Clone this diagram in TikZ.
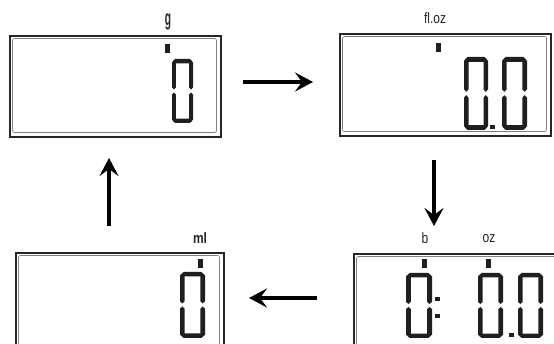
\documentclass[tikz,border=0pt]{standalone}
\usepackage{fontspec}
\setmainfont{Liberation Sans}
\usetikzlibrary{arrows.meta}
\tikzset{
  lcdout/.style={draw=black!85, line width=1.6pt},
  lcdin/.style={draw=black!50, line width=0.6pt, rounded corners=1.5pt},
  segfill/.style={fill=black!88, draw=none},
  unitlbl/.style={font=\fontsize{15}{15}\selectfont, text=black!85, inner sep=0pt, xscale=0.8},
  flowarrow/.style={line width=3.4pt, draw=black, -{Stealth[length=18pt,width=19pt,inset=7pt]}},
}
\newcommand\lcdzero[4]{%
  \begin{scope}[shift={(#1,#2)}, xscale=#3/24, yscale=#4/66]
    \fill[segfill] (1.2,2.25) -- (3.45,0) -- (20.55,0) -- (22.8,2.25) -- (20.55,4.5) -- (3.45,4.5) -- cycle;
    \fill[segfill] (1.2,63.75) -- (3.45,61.5) -- (20.55,61.5) -- (22.8,63.75) -- (20.55,66) -- (3.45,66) -- cycle;
    \fill[segfill] (2.25,1.2) -- (4.5,3.45) -- (4.5,29.3) -- (2.25,31.5) -- (0,29.3) -- (0,3.45) -- cycle;
    \fill[segfill] (2.25,34.5) -- (4.5,36.7) -- (4.5,62.55) -- (2.25,64.8) -- (0,62.55) -- (0,36.7) -- cycle;
    \fill[segfill] (21.75,1.2) -- (24,3.45) -- (24,29.3) -- (21.75,31.5) -- (19.5,29.3) -- (19.5,3.45) -- cycle;
    \fill[segfill] (21.75,34.5) -- (24,36.7) -- (24,62.55) -- (21.75,64.8) -- (19.5,62.55) -- (19.5,36.7) -- cycle;
  \end{scope}}
\newcommand\lcdmark[2]{\fill[segfill] (#1,#2) rectangle ++(4.5,9);}
\newcommand\lcddot[2]{\fill[segfill] (#1,#2) rectangle ++(4.5,4.5);}
\begin{document}
\begin{tikzpicture}[x={(1pt,0)}, y={(0,-1pt)}]
  \useasboundingbox (0,0) rectangle (554,344);
  \clip (0,0) rectangle (554,344);
  \fill[white] (0,0) rectangle (554,344);

  % box g (top left)
  \node[lcdout, minimum width=211pt, minimum height=101pt, anchor=north west, inner sep=0pt] (boxg) at (9,35) {};
  \draw[lcdin] (12.5,38.5) rectangle (216.5,132.5);
  \node[unitlbl, font=\fontsize{15}{15}\selectfont\bfseries, xscale=0.85, yscale=1.45] (lblg) at (168,22) {g};
  \lcdmark{165}{44}
  \lcdzero{172}{59}{21}{64}

  % box fl.oz (top right)
  \node[lcdout, minimum width=211pt, minimum height=102pt, anchor=north west, inner sep=0pt] (boxfl) at (339,33) {};
  \draw[lcdin] (342.5,36.5) rectangle (546.5,131.5);
  \node[unitlbl] (lblfl) at (435,18) {fl.oz};
  \lcdmark{436}{43}
  \lcdzero{464}{57}{24}{73}
  \lcddot{490}{125}
  \lcdzero{502}{57}{25}{73}

  % box ml (bottom left)
  \node[lcdout, minimum width=208pt, minimum height=110pt, anchor=north west, inner sep=0pt] (boxml) at (15,252) {};
  \draw[lcdin] (18.5,255.5) rectangle (219.5,360);
  \node[unitlbl, font=\fontsize{15}{15}\selectfont\bfseries] (lblml) at (200,238) {ml};
  \lcdmark{198}{259}
  \lcdzero{180}{272}{25}{66}

  % box lb oz (bottom right)
  \node[lcdout, minimum width=220pt, minimum height=110pt, anchor=north west, inner sep=0pt] (boxlb) at (353,253) {};
  \draw[lcdin] (356.5,256.5) rectangle (570,360);
  \node[unitlbl] (lblb) at (425,238) {b};
  \node[unitlbl] (lbloz) at (489,239) {oz};
  \lcdmark{422}{259}
  \lcdzero{406}{273}{26}{65}
  \lcddot{435}{297}
  \lcddot{435}{314}
  \lcdmark{486}{259}
  \lcdzero{478}{273}{25}{65}
  \lcddot{509}{333}
  \lcdzero{518}{273}{25}{65}

  % arrows
  \coordinate (r1) at (243,82);
  \coordinate (r2) at (313,82);
  \coordinate (d1) at (434,160);
  \coordinate (d2) at (434,226);
  \coordinate (l1) at (317,298);
  \coordinate (l2) at (249,298);
  \coordinate (u1) at (109,226);
  \coordinate (u2) at (109,158);
  \draw[flowarrow] (r1) -- (r2);
  \draw[flowarrow] (d1) -- (d2);
  \draw[flowarrow] (l1) -- (l2);
  \draw[flowarrow] (u1) -- (u2);
\end{tikzpicture}
\end{document}
